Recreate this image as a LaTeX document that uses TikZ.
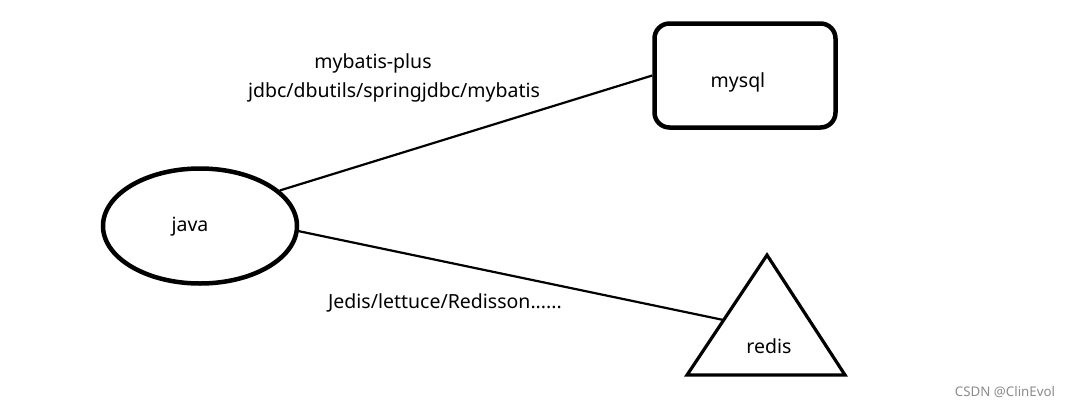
\documentclass[tikz,border=0pt]{standalone}
\usepackage{fontspec}
\setmainfont{Noto Sans}
\usetikzlibrary{shapes.geometric}
\begin{document}
\begin{tikzpicture}[x=1pt,y=-1pt,
  lbl/.style={font=\fontsize{19.5}{22}\selectfont, inner sep=0pt},
  conn/.style={line width=2.2pt},
  ell/.style={ellipse, draw, line width=4.5pt, minimum width=194pt, minimum height=115pt, inner sep=0pt},
  rbox/.style={rectangle, rounded corners=15pt, draw, line width=4.5pt, minimum width=181pt, minimum height=104pt, inner sep=0pt}]
\useasboundingbox (0,0) rectangle (1071,407);
\fill[white] (0,0) rectangle (1071,407);
\node[ell] (java) at (200,226) {};
\node[lbl] (javat) at (190,227) {java};
\node[rbox] (mysql) at (745,75.5) {};
\node[lbl] (mysqlt) at (738,82) {mysql};
\coordinate (ta) at (767,255);
\coordinate (tl) at (687,375);
\coordinate (tr) at (845,375);
\draw[line width=3.2pt, line join=miter] (ta) -- (tl) -- (tr) -- cycle;
\coordinate (redisin) at (723.5,320);
\node[lbl] (redist) at (769,346) {redis};
\draw[conn] (java.24) -- (mysql.west);
\draw[conn] (java.-3) -- (redisin);
\node[lbl] (l1) at (373,63) {mybatis-plus};
\node[lbl] (l2) at (394,92) {jdbc/dbutils/springjdbc/mybatis};
\node[lbl] (l3) at (445,303) {Jedis/lettuce/Redisson......};
\node[font=\fontsize{13.3}{15}\selectfont, text=black!45, inner sep=0pt] (wm) at (1005,392) {CSDN @ClinEvol};
\end{tikzpicture}
\end{document}
